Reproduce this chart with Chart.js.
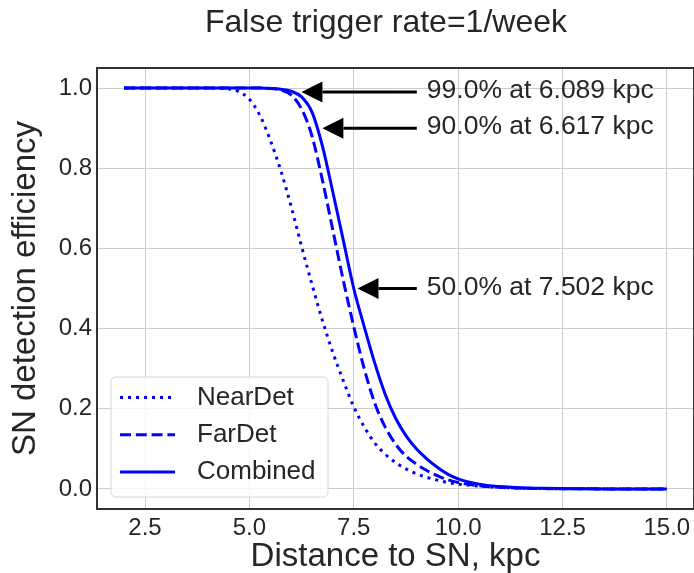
<!DOCTYPE html>
<html>
<head>
<meta charset="utf-8">
<script src="https://cdn.jsdelivr.net/npm/chart.js@4.4.0/dist/chart.umd.min.js"></script>
<style>
  html, body { margin: 0; padding: 0; background: #fff; }
  #wrap { width: 694px; height: 573px; }
</style>
</head>
<body>
<div id="wrap"><canvas id="effChart" width="694" height="573"></canvas></div>
<script>
// distance to SN (kpc) and detection efficiency
const distance = [2, 3, 4, 4.25, 4.5, 4.75, 5, 5.25, 5.5, 5.75, 6, 6.25, 6.5, 6.75, 7, 7.25, 7.5, 7.75, 8, 8.25, 8.5, 8.75, 9, 9.25, 9.5, 9.75, 10, 10.5, 11, 11.5, 12, 13, 14, 15];
const nearDet  = [1, 1, 1, 0.9995, 0.998, 0.991, 0.972, 0.932, 0.87, 0.795, 0.705, 0.605, 0.51, 0.42, 0.34, 0.27, 0.205, 0.155, 0.115, 0.087, 0.066, 0.05, 0.038, 0.029, 0.022, 0.016, 0.012, 0.007, 0.004, 0.002, 0.001, 0.0003, 0.0001, 0];
const farDet   = [1, 1, 1, 1, 1, 1, 1, 1.0, 0.999, 0.995, 0.983, 0.948, 0.88, 0.77, 0.645, 0.52, 0.405, 0.30, 0.215, 0.155, 0.112, 0.082, 0.062, 0.046, 0.033, 0.023, 0.016, 0.008, 0.004, 0.002, 0.001, 0.0003, 0.0001, 0];
const combined = [1, 1, 1, 1, 1, 1, 1, 1, 0.999, 0.997, 0.992, 0.978, 0.94, 0.855, 0.74, 0.62, 0.50, 0.405, 0.315, 0.237, 0.177, 0.133, 0.10, 0.075, 0.054, 0.037, 0.025, 0.012, 0.006, 0.003, 0.0015, 0.0004, 0.0001, 0];

const xTicks = [2.5, 5.0, 7.5, 10.0, 12.5, 15.0];
const yTicks = [0.0, 0.2, 0.4, 0.6, 0.8, 1.0];

// arrow annotations
const annotX = [6.089, 6.617, 7.502];
const annotY = [0.99, 0.90, 0.50];
const annotText = ['99.0% at 6.089 kpc', '90.0% at 6.617 kpc', '50.0% at 7.502 kpc'];
const annotTextX = 9.25;

const FONT = '"Liberation Sans", Arial, sans-serif';
const TXT = '#262626';

Chart.defaults.font.family = FONT;
Chart.defaults.color = TXT;

function toPoints(ys) {
    return distance.map((d, i) => ({ x: d, y: ys[i] }));
}

function lineSet(label, ys, dash) {
    return {
        label: label,
        data: toPoints(ys),
        borderColor: '#0000ff',
        borderWidth: 3,
        borderDash: dash,
        pointRadius: 0,
        fill: false,
        cubicInterpolationMode: 'monotone'
    };
}

const decor = {
    id: 'decor',
    beforeDraw(chart) {
        const ctx = chart.ctx;
        ctx.save();
        ctx.fillStyle = '#ffffff';
        ctx.fillRect(0, 0, chart.width, chart.height);
        ctx.restore();
    },
    afterDatasetsDraw(chart) {
        const { ctx, chartArea: a, scales: { x, y } } = chart;
        ctx.save();

        // frame
        ctx.strokeStyle = '#333333';
        ctx.lineWidth = 2;
        ctx.strokeRect(a.left, a.top, a.right - a.left, a.bottom - a.top);

        // arrows + texts
        const tx = x.getPixelForValue(annotTextX);
        ctx.fillStyle = '#000000';
        ctx.strokeStyle = '#000000';
        for (let i = 0; i < annotX.length; i++) {
            const px = x.getPixelForValue(annotX[i]);
            const py = y.getPixelForValue(annotY[i]);
            const tip = px + 0.05 * (tx - px);
            const tail = tx - 10;
            const headLen = 21, headHalf = 10.5;
            ctx.lineWidth = 3;
            ctx.beginPath();
            ctx.moveTo(tail, py);
            ctx.lineTo(tip + headLen, py);
            ctx.stroke();
            ctx.beginPath();
            ctx.moveTo(tip, py);
            ctx.lineTo(tip + headLen, py - headHalf);
            ctx.lineTo(tip + headLen, py + headHalf);
            ctx.closePath();
            ctx.fill();

            ctx.fillStyle = TXT;
            ctx.font = '26.5px ' + FONT;
            ctx.textBaseline = 'middle';
            ctx.textAlign = 'left';
            ctx.fillText(annotText[i], tx, py - 1);
            ctx.fillStyle = '#000000';
        }

        // legend box
        const bx = 111, by = 377, bw = 217, bh = 120;
        ctx.beginPath();
        ctx.roundRect(bx, by, bw, bh, 5);
        ctx.fillStyle = 'rgba(255,255,255,0.8)';
        ctx.fill();
        ctx.strokeStyle = '#d6d6d6';
        ctx.lineWidth = 1;
        ctx.stroke();
        chart.data.datasets.forEach((ds, i) => {
            const yy = 397.5 + i * 37.2;
            ctx.beginPath();
            ctx.setLineDash(ds.borderDash || []);
            ctx.strokeStyle = ds.borderColor;
            ctx.lineWidth = ds.borderWidth;
            ctx.moveTo(120, yy);
            ctx.lineTo(175, yy);
            ctx.stroke();
            ctx.setLineDash([]);
            ctx.fillStyle = TXT;
            ctx.font = '26px ' + FONT;
            ctx.textBaseline = 'middle';
            ctx.textAlign = 'left';
            ctx.fillText(ds.label, 197, yy);
        });
        ctx.restore();
    },
    afterDraw(chart) {
        const ctx = chart.ctx;
        ctx.save();
        ctx.fillStyle = TXT;
        ctx.font = '32px ' + FONT;
        ctx.textAlign = 'center';
        ctx.textBaseline = 'middle';
        ctx.fillText('False trigger rate=1/week', 386, 23);
        ctx.restore();
    }
};

const ctx = document.getElementById('effChart').getContext('2d');
new Chart(ctx, {
    type: 'line',
    data: {
        datasets: [
            lineSet('NearDet', nearDet, [3, 5]),
            lineSet('FarDet', farDet, [11, 4.8]),
            lineSet('Combined', combined, [])
        ]
    },
    options: {
        responsive: false,
        animation: false,
        layout: { padding: { top: 68, left: 0, right: 0, bottom: 0 }, autoPadding: false },
        plugins: {
            legend: { display: false },
            tooltip: { enabled: false }
        },
        scales: {
            x: {
                type: 'linear',
                min: 1.35,
                max: 15.65,
                afterBuildTicks: s => { s.ticks = xTicks.map(v => ({ value: v })); },
                ticks: {
                    callback: v => v.toFixed(1),
                    font: { size: 24 },
                    color: TXT,
                    padding: 5,
                    maxRotation: 0,
                    autoSkip: false
                },
                grid: { color: '#cccccc', lineWidth: 1, drawTicks: false },
                border: { display: false },
                title: {
                    display: true,
                    text: 'Distance to SN, kpc',
                    font: { size: 33, lineHeight: 1 },
                    color: TXT,
                    padding: { top: 0, bottom: 0 }
                },
                afterFit: s => { s.height = 64; s.paddingLeft = 0; s.paddingRight = 0; }
            },
            y: {
                type: 'linear',
                min: -0.05,
                max: 1.05,
                afterBuildTicks: s => { s.ticks = yTicks.map(v => ({ value: v })); },
                ticks: {
                    callback: v => v.toFixed(1),
                    font: { size: 24 },
                    color: TXT,
                    padding: 5,
                    autoSkip: false
                },
                grid: { color: '#cccccc', lineWidth: 1, drawTicks: false },
                border: { display: false },
                title: {
                    display: true,
                    text: 'SN detection efficiency',
                    font: { size: 33, lineHeight: 1 },
                    color: TXT,
                    padding: { top: 9, bottom: 0 }
                },
                afterFit: s => { s.width = 97; s.paddingTop = 0; s.paddingBottom = 0; }
            }
        }
    },
    plugins: [decor]
});
</script>
</body>
</html>
